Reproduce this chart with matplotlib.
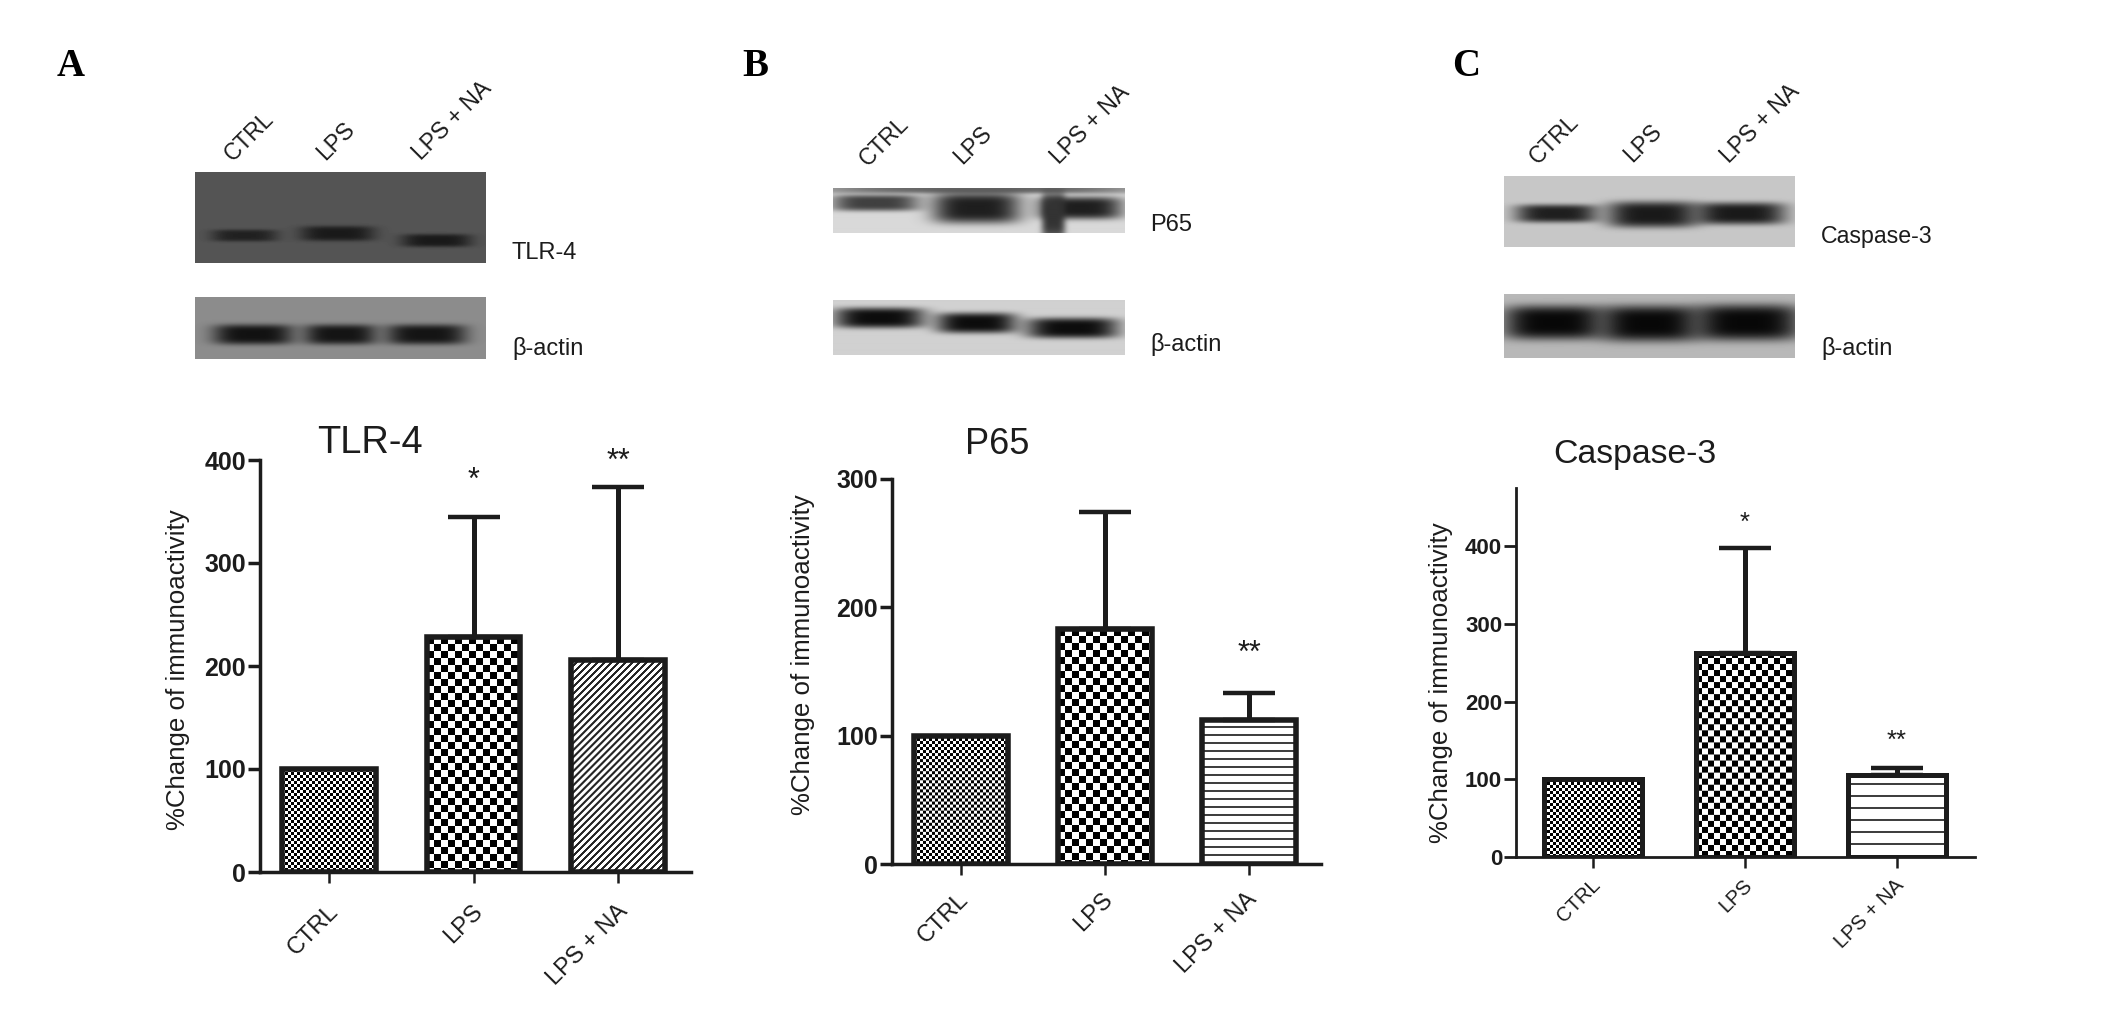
import numpy as np
import matplotlib
matplotlib.use("Agg")
import matplotlib.pyplot as plt
from matplotlib.transforms import ScaledTranslation

W, H = 2126, 1009
plt.rcParams['font.family'] = ['Liberation Sans', 'DejaVu Sans']
INK = '#1c1c1c'

categories = ['CTRL', 'LPS', 'LPS + NA']

tlr4_means = [100, 228, 206]
tlr4_tops = [None, 345, 374]
tlr4_ticks = [0, 100, 200, 300, 400]
tlr4_stars = ['', '*', '**']
tlr4_star_y = [None, 380, 398]

p65_means = [100, 183, 112]
p65_tops = [None, 274, 133]
p65_ticks = [0, 100, 200, 300]
p65_stars = ['', '', '**']
p65_star_y = [None, None, 164]

casp_means = [100, 263, 105]
casp_tops = [None, 398, 114]
casp_ticks = [0, 100, 200, 300, 400]
casp_stars = ['', '*', '**']
casp_star_y = [None, 430, 150]

fig = plt.figure(figsize=(W / 100, H / 100), dpi=100, facecolor='white')


def ftext(x, y, s, **kw):
    kw.setdefault('color', INK)
    return fig.text(x / W, 1 - y / H, s, **kw)


def pattern(kind, nx, ny, cell):
    yy, xx = np.mgrid[0:ny, 0:nx]
    if kind == 'check':
        return (((xx // cell) + (yy // cell)) % 2).astype(float)
    if kind == 'diag':
        return ((xx + yy) % cell >= 2.2).astype(float) * 0.85 + 0.15
    # horizontal lines, counted from the bar's base
    return (((ny - 1 - yy) % cell) >= 1.5).astype(float) * 0.75 + 0.25


def barpanel(box, ylim_top, means, tops, ticks, stars, star_y, fills, centers,
             title, title_xy, title_size, ylabel_xy, tick_size, xlab_size,
             star_size, spine_w, bar_w, xpad, label_shift):
    left, right, top, bottom = box
    ax = fig.add_axes([left / W, 1 - bottom / H, (right - left) / W, (bottom - top) / H])
    step = (centers[2] - centers[0]) / 2
    xlim = ((left - centers[0]) / step, (right - centers[0]) / step)
    x = np.arange(len(categories))
    width = 0.65
    ax.set_xlim(*xlim)
    ax.set_ylim(0, ylim_top)
    errs = [0 if t is None else t - m for t, m in zip(tops, means)]
    for i, (kind, cell) in enumerate(fills):
        x0, x1 = x[i] - width / 2, x[i] + width / 2
        p0 = ax.transData.transform((x0, 0))
        p1 = ax.transData.transform((x1, means[i]))
        nx, ny = int(round(p1[0] - p0[0])), int(round(p1[1] - p0[1]))
        ax.imshow(pattern(kind, nx, ny, cell), cmap='gray', vmin=0, vmax=1,
                  extent=(x0, x1, 0, means[i]), aspect='auto',
                  interpolation='antialiased', zorder=1)
    ax.set_xlim(*xlim)
    ax.set_ylim(0, ylim_top)
    for i in range(1, 3):
        ax.errorbar(x[i], means[i], yerr=[[0], [errs[i]]], color=INK, elinewidth=3.6,
                    capsize=18.5, capthick=3.2, zorder=2, fmt='none', clip_on=False)
    ax.bar(x, means, width, facecolor='none', edgecolor=INK, linewidth=bar_w, zorder=3)
    for s in ('top', 'right'):
        ax.spines[s].set_visible(False)
    for s in ('left', 'bottom'):
        ax.spines[s].set_linewidth(spine_w)
        ax.spines[s].set_color(INK)
        ax.spines[s].set_zorder(4)
    ax.set_yticks(ticks)
    ax.set_xticks(x)
    ax.set_xticklabels(categories, rotation=45, ha='right', va='center',
                       rotation_mode='anchor', fontsize=xlab_size, color=INK)
    ax.tick_params(axis='y', length=9, width=spine_w, pad=1, labelsize=tick_size,
                   labelcolor=INK, color=INK)
    ax.tick_params(axis='x', length=8, width=1.8, pad=xpad, color=INK)
    shift = ScaledTranslation(label_shift / 100, 0, fig.dpi_scale_trans)
    for t in ax.get_xticklabels():
        t.set_transform(t.get_transform() + shift)
    for t in ax.get_yticklabels():
        t.set_fontweight('bold')
    for i, s in enumerate(stars):
        if s:
            ax.text(x[i], star_y[i], s, ha='center', va='center', fontsize=star_size,
                    color=INK, clip_on=False)
    ftext(*title_xy, title, ha='center', va='center', fontsize=title_size)
    ftext(*ylabel_xy, '%Change of immunoactivity', rotation=90, ha='center', va='center',
          fontsize=18.6)


def blot(box, bg, bands):
    left, right, top, bottom = box
    nx, ny = right - left, bottom - top
    ax = fig.add_axes([left / W, 1 - bottom / H, nx / W, ny / H])
    yy, xx = np.mgrid[0:ny, 0:nx]
    img = np.full((ny, nx), float(bg))
    for cx, cy, hw, hh, dark in bands:
        w = np.exp(-((xx - cx) / hw) ** 4 - ((yy - cy) / hh) ** 4)
        img = img * (1 - w) + dark * w
    ax.imshow(img, cmap='gray', vmin=0, vmax=1, aspect='auto', interpolation='bilinear')
    ax.axis('off')


def lane_labels(points):
    for (px, py), s in zip(points, categories):
        ftext(px, py, s, rotation=45, ha='left', va='bottom', rotation_mode='anchor',
              fontsize=16.5)


# ---------- Panel A ----------
ftext(57, 66, 'A', family='Liberation Serif', weight='bold', fontsize=28, color='black',
      ha='left', va='center')
lane_labels([(236, 166), (329, 165), (425, 165)])
blot((195, 486, 172, 263), 0.33,
     [(49, 63, 33, 6, 0.13), (142, 61, 37, 7.5, 0.10), (241, 68, 35, 6.5, 0.10)])
blot((195, 486, 297, 359), 0.55,
     [(58, 37, 40, 10, 0.07), (145, 37, 36, 10, 0.08), (231, 37, 40, 10, 0.08)])
ftext(512, 253, 'TLR-4', fontsize=17, va='center')
ftext(512, 348, 'β-actin', fontsize=17, va='center')
barpanel((260, 691, 460, 872), 400, tlr4_means, tlr4_tops, tlr4_ticks, tlr4_stars, tlr4_star_y,
         [('check', 3), ('check', 7), ('diag', 7)], (329, 473, 618),
         'TLR-4', (370, 443), 27.4, (178, 670), 18, 17, 22, 2.5, 4, 18, 6)

# ---------- Panel B ----------
ftext(742, 66, 'B', family='Liberation Serif', weight='bold', fontsize=28, color='black',
      ha='left', va='center')
lane_labels([(871, 171), (966, 169), (1063, 169)])
blot((833, 1125, 188, 233), 0.85,
     [(146, 0, 170, 6, 0.4), (42, 15, 44, 8, 0.25), (143, 20, 44, 15, 0.12),
      (247, 20, 42, 11, 0.12), (220, 28, 12, 24, 0.2)])
blot((833, 1125, 300, 355), 0.82,
     [(46, 18, 45, 10, 0.05), (143, 23, 40, 10, 0.05), (239, 28, 46, 10, 0.05)])
ftext(1150, 225, 'P65', fontsize=17, va='center')
ftext(1150, 345, 'β-actin', fontsize=17, va='center')
barpanel((892, 1321, 479, 864), 300, p65_means, p65_tops, p65_ticks, p65_stars, p65_star_y,
         [('check', 3), ('check', 7), ('horiz', 8)], (961, 1105, 1249),
         'P65', (997, 444), 26, (803, 655), 18, 17, 22, 2.5, 4, 15, 4)

# ---------- Panel C ----------
ftext(1452, 66, 'C', family='Liberation Serif', weight='bold', fontsize=28, color='black',
      ha='left', va='center')
lane_labels([(1541, 169), (1636, 167), (1733, 168)])
blot((1504, 1795, 176, 247), 0.78,
     [(52, 37, 41, 9, 0.12), (148, 38, 45, 13, 0.10), (236, 37, 45, 11, 0.10)])
blot((1504, 1795, 294, 358), 0.72,
     [(49, 28, 50, 17, 0.03), (145, 29, 49, 18, 0.03), (243, 28, 53, 18, 0.03)])
ftext(1821, 236, 'Caspase-3', fontsize=16.7, va='center')
ftext(1821, 348, 'β-actin', fontsize=17, va='center')
barpanel((1516, 1975, 488, 857), 475, casp_means, casp_tops, casp_ticks, casp_stars, casp_star_y,
         [('check', 3), ('check', 6), ('horiz', 12)], (1593, 1745, 1897),
         'Caspase-3', (1635, 454), 24.3, (1441, 683), 16, 14.5, 18.5, 2, 3.6, 10, 4)

fig.savefig('out.png', dpi=100, facecolor='white')
